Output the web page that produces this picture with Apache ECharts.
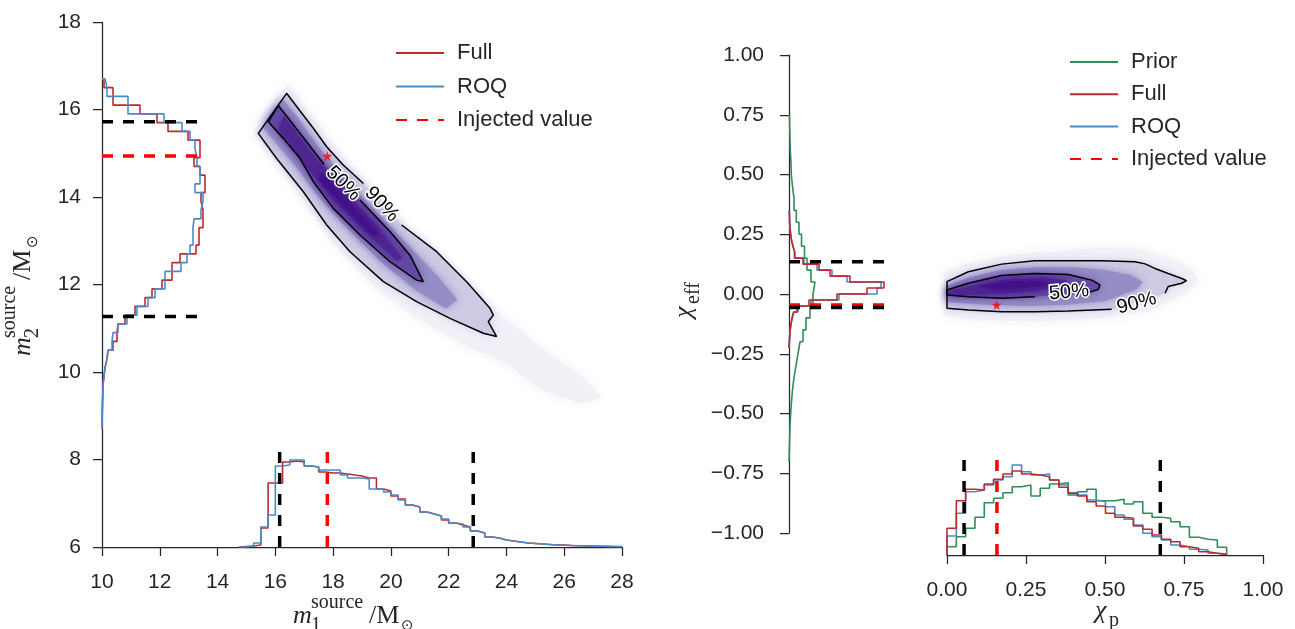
<!DOCTYPE html>
<html><head><meta charset="utf-8">
<script src="https://cdn.jsdelivr.net/npm/echarts@6/dist/echarts.min.js"></script>
<style>html,body{margin:0;padding:0;background:#fff}#c{width:1295px;height:629px}</style>
</head><body><div id="c"></div>
<script>
// ---------------- DATA ----------------
const m2Start = 8.7, m2Bin = 0.2;
const m2Full = [0.002,0.003,0.005,0.008,0.01,0.02,0.03,0.05,0.06,0.11,0.15,0.16,0.23,0.33,0.43,0.50,0.60,0.70,0.70,0.78,0.94,0.97,0.97,1.01,1.01,0.99,0.99,1.03,1.03,0.98,0.92,0.98,0.98,0.86,0.66,0.55,0.38,0.11,0.11,0.02];
const m2Roq  = [0.002,0.003,0.005,0.008,0.01,0.02,0.03,0.05,0.06,0.10,0.11,0.16,0.25,0.35,0.46,0.53,0.63,0.63,0.79,0.85,0.88,0.91,0.91,0.92,0.99,1.01,1.01,0.93,0.98,0.98,0.95,0.93,0.93,0.88,0.80,0.62,0.26,0.26,0.05,0.03];
const m1Start = 14.75, m1Bin = 0.25;
const m1Full = [0.005,0.01,0.02,0.19,0.64,0.64,0.85,0.86,0.85,0.81,0.80,0.75,0.74,0.74,0.73,0.72,0.71,0.69,0.69,0.58,0.56,0.51,0.48,0.42,0.40,0.35,0.33,0.31,0.27,0.24,0.22,0.20,0.16,0.14,0.10,0.09,0.07,0.06,0.05,0.04,0.035,0.03,0.025,0.02,0.02,0.015,0.012,0.01,0.01,0.008,0.006,0.005,0.004];
const m1Roq  = [0,0.01,0.04,0.20,0.32,0.81,0.82,0.87,0.87,0.81,0.80,0.77,0.77,0.77,0.72,0.69,0.69,0.68,0.58,0.58,0.55,0.52,0.47,0.42,0.40,0.35,0.33,0.31,0.28,0.24,0.23,0.20,0.16,0.14,0.10,0.09,0.07,0.06,0.05,0.04,0.035,0.03,0.025,0.02,0.018,0.015,0.012,0.01,0.008,0.007,0.006,0.004,0.003];
const ceStart = -0.225, ceBin = 0.025;
const ceFull = [0.004,0.008,0.012,0.02,0.03,0.045,0.08,0.20,0.48,0.78,0.95,0.61,0.41,0.30,0.14,0.055,0.04,0.025,0.018,0.01,0.007,0.005,0.003];
const ceRoq  = [0.003,0.006,0.012,0.02,0.035,0.05,0.09,0.22,0.50,0.88,0.92,0.58,0.43,0.28,0.15,0.06,0.04,0.025,0.015,0.01,0.006,0.004,0.002];
const cePriorStart = -0.70, cePriorBin = 0.05;
const cePrior = [0.004,0.007,0.01,0.017,0.025,0.035,0.05,0.07,0.09,0.11,0.14,0.17,0.21,0.24,0.26,0.22,0.18,0.155,0.125,0.10,0.073,0.05,0.035,0.023,0.02,0.013,0.01,0.007,0.005];
const cpStart = 0, cpBin = 0.0295;
const cpFull  = [0.267,0.543,0.657,0.65,0.71,0.757,0.81,0.84,0.81,0.80,0.783,0.75,0.677,0.617,0.59,0.533,0.49,0.417,0.377,0.367,0.29,0.257,0.20,0.157,0.133,0.083,0.067,0.033,0.017,0.003];
const cpRoq   = [0.19,0.417,0.633,0.65,0.70,0.75,0.783,0.90,0.833,0.80,0.81,0.75,0.70,0.623,0.60,0.55,0.533,0.483,0.40,0.357,0.30,0.217,0.183,0.15,0.10,0.083,0.057,0.05,0.017,0.01];
const cpPrior = [0.083,0.183,0.267,0.377,0.523,0.567,0.623,0.683,0.70,0.59,0.667,0.71,0.723,0.60,0.633,0.657,0.543,0.543,0.557,0.51,0.533,0.417,0.377,0.367,0.333,0.283,0.177,0.157,0.15,0.077];
const m1CI = [16.15, 22.85], m1Inj = 17.8;
const m2CI = [15.72, 11.27], m2Inj = 14.94;
const cpCI = [0.054, 0.675], cpInj = 0.158;
const ceCI = [0.135, -0.056], ceInj = -0.046;
const mLineLen = 0.98, cLineLen = 0.96;
const massC90 = [[20.37,13.36],[21.585,12.75],[22.62,12.065],[23.43,11.455],[23.546,11.30],[23.37,11.15],[23.66,10.81],[23.2,10.885],[22.046,11.227],[20.89,11.61],[19.74,12.065],[18.585,12.75],[17.777,13.36],[16.97,14.12],[16.046,14.88],[15.41,15.455],[16.39,16.37],[16.85,15.97],[17.315,15.57],[17.777,15.15],[18.35,14.73],[19.05,14.31]];
const massC50 = [[18.93,13.93],[19.97,13.21],[20.66,12.67],[21.12,12.065],[20.89,12.10],[19.97,12.52],[18.93,13.13],[18.007,13.74],[17.315,14.35],[16.854,14.884],[16.277,15.34],[15.758,15.72],[16.104,16.09],[16.854,15.455],[17.684,14.747]];
const massHalo = [[16.45,16.6],[17.3,15.8],[18.3,14.95],[19.6,14.0],[21.0,13.0],[22.4,12.1],[23.8,11.3],[25.3,10.5],[26.6,9.9],[27.3,9.4],[26.5,9.3],[25.2,9.6],[24.0,10.2],[22.6,10.6],[21.0,11.2],[19.4,11.95],[18.2,12.8],[17.1,13.8],[16.1,14.75],[15.25,15.45],[15.5,15.85]];
const massMid = [[16.25,16.25],[16.85,15.75],[17.5,15.15],[18.3,14.5],[19.5,13.65],[20.6,12.9],[21.6,12.2],[22.3,11.65],[21.9,11.45],[20.9,11.85],[19.6,12.55],[18.4,13.35],[17.5,14.0],[16.7,14.7],[16.0,15.25],[15.55,15.6]];
const massCore = [[16.3,15.85],[17.2,15.05],[18.3,14.2],[19.5,13.35],[20.4,12.6],[20.2,12.55],[19.2,13.15],[18.0,13.95],[17.0,14.75],[16.1,15.55]];
const massDeep = [[17.6,14.55],[18.6,13.85],[19.6,13.15],[19.4,13.1],[18.4,13.75],[17.5,14.4]];
const massLabels = [[18.35,14.31,'50%',-45],[19.68,13.83,'90%',-47]];
const massStar = [17.8, 14.94];
const spinC90 = [[0.521,-0.064],[0.384,-0.071],[0.278,-0.074],[0.173,-0.074],[0.0675,-0.067],[0,-0.060],[0,0.052],[0.0675,0.093],[0.173,0.125],[0.278,0.139],[0.384,0.139],[0.49,0.139],[0.595,0.135],[0.627,0.126],[0.658,0.107],[0.70,0.086],[0.743,0.065],[0.758,0.056],[0.743,0.045],[0.70,0.031],[0.69,0.003]];
const spinC50 = [[0.278,-0.011],[0.173,-0.018],[0.0675,-0.011],[0,-0.004],[0,0.017],[0.0675,0.045],[0.173,0.077],[0.278,0.086],[0.384,0.082],[0.458,0.058],[0.484,0.038],[0.479,0.020],[0.458,0.010],[0.44,0.007]];
const spinHalo = [[-0.01,0.09],[0.07,0.13],[0.2,0.165],[0.35,0.18],[0.5,0.195],[0.62,0.185],[0.7,0.15],[0.77,0.11],[0.795,0.06],[0.77,0.02],[0.72,-0.02],[0.64,-0.07],[0.5,-0.10],[0.3,-0.115],[0.1,-0.11],[-0.01,-0.09]];
const spinMid = [[0,0.035],[0.07,0.07],[0.17,0.10],[0.28,0.112],[0.4,0.112],[0.5,0.10],[0.58,0.08],[0.62,0.05],[0.6,0.02],[0.5,-0.03],[0.38,-0.045],[0.25,-0.05],[0.12,-0.045],[0,-0.035]];
const spinCore = [[0,0.01],[0.08,0.035],[0.18,0.06],[0.3,0.068],[0.38,0.058],[0.37,0.03],[0.28,0.012],[0.17,0.002],[0.08,-0.004],[0,-0.008]];
const spinDeep = [[0.1,0.035],[0.2,0.052],[0.3,0.054],[0.33,0.04],[0.25,0.025],[0.15,0.018]];
const spinLabels = [[0.386,0.0075,'50%',5],[0.600,-0.039,'90%',15]];
const spinStar = [0.157, -0.046];
const m1Ticks = {min:10, max:28, interval:2};
const m2Ticks = {min:6, max:18, interval:2};
const cpTicks = {min:0, max:1, interval:0.25};
const ceTicks = {min:-1, max:1, interval:0.25};

// ---------------- STYLE ----------------
const C = {full:'#bd2a2e', roq:'#4c8ac6', prior:'#2f8d55', inj:'#ff0000', ci:'#000000', ink:'#262626'};
const SHADE = ['#f1f0f7','#cdcae4','#958dc5','#6549a6','#4f2592','#42118a'];
const FONT = '"Liberation Sans", Arial, sans-serif';
const SERIF = '"Liberation Serif", "DejaVu Serif", serif';

function stepX(start, bin, vals){
  const p=[[start,0]];
  vals.forEach((v,i)=>{p.push([start+i*bin,v],[start+(i+1)*bin,v]);});
  p.push([start+vals.length*bin,0]);
  return p;
}
function stepY(start, bin, vals){ return stepX(start,bin,vals).map(d=>[d[1],d[0]]); }
function lineS(name, xi, yi, data, color, width, type, z){
  return {type:'line', name:name, xAxisIndex:xi, yAxisIndex:yi, data:data, symbol:'none', showSymbol:false,
    silent:true, animation:false, lineStyle:{color:color, width:width, type:type||'solid'}, itemStyle:{color:color}, z:z||5};
}
function polyS(xi, yi, pts, color, z, blur){
  return {type:'custom', xAxisIndex:xi, yAxisIndex:yi, silent:true, z:z, data:[[pts[0][0],pts[0][1]]],
    renderItem:function(params, api){
      return {type:'polygon', shape:{points:pts.map(p=>api.coord(p))},
        style:{fill:color, shadowBlur:blur, shadowColor:color}};
    }};
}
function textS(xi, yi, items){
  return {type:'custom', xAxisIndex:xi, yAxisIndex:yi, silent:true, z:20, data:items.map(d=>[d[0],d[1]]),
    renderItem:function(params, api){
      const d=items[params.dataIndex]; const c=api.coord([d[0],d[1]]);
      return {type:'text', x:c[0], y:c[1], rotation:d[3]*Math.PI/180,
        style:{text:d[2], fill:'#000', stroke:'#fff', lineWidth:3, strokeFirst:true, font:'20px '+FONT,
          align:'center', verticalAlign:'middle', textAlign:'center', textVerticalAlign:'middle'}};
    }};
}
const starPath = 'path://M50,0 L61,35 L98,35 L68,57 L79,91 L50,70 L21,91 L32,57 L2,35 L39,35 Z';

function axis(gi, show, range, opts){
  opts = opts||{};
  return {type:'value', gridIndex:gi, show:show, min:range.min, max:range.max, interval:range.interval,
    splitLine:{show:false},
    axisLine:{show:true, onZero:false, lineStyle:{color:C.ink, width:1.25}},
    axisTick:{show:true, length:9, lineStyle:{color:C.ink, width:1.25}},
    axisLabel:{color:C.ink, fontSize:21, fontFamily:FONT, margin:opts.margin||20, formatter:opts.fmt}};
}
const fmtInt = v => String(v);
const fmt2 = v => (v<0?'\u2212':'') + Math.abs(v).toFixed(2);

function density(xi, yi, halo, c90, mid, c50, core, deep){
  return [polyS(xi,yi,halo,SHADE[0],1,12), polyS(xi,yi,c90,SHADE[1],2,8), polyS(xi,yi,mid,SHADE[2],3,8),
          polyS(xi,yi,c50,SHADE[3],4,8), polyS(xi,yi,core,SHADE[4],5,8), polyS(xi,yi,deep,SHADE[5],6,8)];
}
const series = [];
series.push(...density(0,0,massHalo,massC90,massMid,massC50,massCore,massDeep));
series.push(lineS('c90m',0,0,massC90,'#000',1.5,'solid',10));
series.push(lineS('c50m',0,0,massC50,'#000',1.5,'solid',10));
series.push(textS(0,0,massLabels));
series.push(...density(3,3,spinHalo,spinC90,spinMid,spinC50,spinCore,spinDeep));
series.push(lineS('c90s',3,3,spinC90,'#000',1.5,'solid',10));
series.push(lineS('c50s',3,3,spinC50,'#000',1.5,'solid',10));
series.push(textS(3,3,spinLabels));
// left marginals
series.push(lineS('Full',1,1,stepY(m2Start,m2Bin,m2Full),C.full,1.6));
series.push(lineS('ROQ',1,1,stepY(m2Start,m2Bin,m2Roq),C.roq,1.6));
series.push(lineS('Injected value',1,1,[[0,m2Inj],[mLineLen,m2Inj]],C.inj,3.5,[11,10],8));
m2CI.forEach(v=>series.push(lineS('ci',1,1,[[0,v],[mLineLen,v]],C.ci,3.5,[11,10],8)));
series.push(lineS('Full',2,2,stepX(m1Start,m1Bin,m1Full),C.full,1.6));
series.push(lineS('ROQ',2,2,stepX(m1Start,m1Bin,m1Roq),C.roq,1.6));
series.push(lineS('Injected value',2,2,[[m1Inj,0],[m1Inj,mLineLen]],C.inj,3.5,[11,10],8));
m1CI.forEach(v=>series.push(lineS('ci',2,2,[[v,0],[v,mLineLen]],C.ci,3.5,[11,10],8)));
// right marginals
series.push(lineS('Prior',4,4,stepY(cePriorStart,cePriorBin,cePrior),C.prior,1.6));
series.push(lineS('Full',4,4,stepY(ceStart,ceBin,ceFull),C.full,1.6,'solid',6));
series.push(lineS('ROQ',4,4,stepY(ceStart,ceBin,ceRoq),C.roq,1.6));
series.push(lineS('Injected value',4,4,[[0,ceInj],[cLineLen,ceInj]],C.inj,3.5,[11,10],8));
ceCI.forEach(v=>series.push(lineS('ci',4,4,[[0,v],[cLineLen,v]],C.ci,3.5,[11,10],8)));
series.push(lineS('Prior',5,5,stepX(cpStart,cpBin,cpPrior),C.prior,1.6));
series.push(lineS('ROQ',5,5,stepX(cpStart,cpBin,cpRoq),C.roq,1.6));
series.push(lineS('Full',5,5,stepX(cpStart,cpBin,cpFull),C.full,1.6,'solid',6));
series.push(lineS('Injected value',5,5,[[cpInj,0],[cpInj,cLineLen]],C.inj,3.5,[11,10],8));
cpCI.forEach(v=>series.push(lineS('ci',5,5,[[v,0],[v,cLineLen]],C.ci,3.5,[11,10],8)));
series.push({type:'scatter', xAxisIndex:0, yAxisIndex:0, data:[massStar], symbol:starPath, symbolSize:10, itemStyle:{color:C.inj}, z:12, silent:true});
series.push({type:'scatter', xAxisIndex:3, yAxisIndex:3, data:[spinStar], symbol:starPath, symbolSize:10, itemStyle:{color:C.inj}, z:12, silent:true});

function mathLabel(x, y, rot, parts){
  return {type:'group', x:x, y:y, rotation:rot, silent:true,
    children: parts.map(p=>({type:'text', x:p[1], y:p[2]-0.33*p[4],
      style:{text:p[0], font:p[3], fill:C.ink, align:'left', verticalAlign:'middle', textAlign:'left', textVerticalAlign:'middle'}}))};
}
const it = s => 'italic '+s+'px '+SERIF, rm = s => s+'px '+SERIF;
const massParts = n => [['m',0,0,it(26),26],['source',18,-16,rm(20),20],[n,18,7,rm(20),20],['/M',76,0,rm(26),26],['\u2299',108,6,'15px "DejaVu Sans"',15]];
const legendBase = {orient:'vertical', itemWidth:48, itemHeight:14, selectedMode:false,
  itemStyle:{color:'rgba(0,0,0,0)', borderWidth:0, opacity:0},
  textStyle:{fontSize:22, color:C.ink, fontFamily:FONT, padding:[0,0,0,8]}};

const option = {
  animation:false, backgroundColor:'#fff',
  grid:[
    {left:102, top:22, width:520, height:525},
    {left:102, top:22, width:520, height:525},
    {left:102, top:22, width:520, height:525},
    {left:789, top:55, width:474, height:478},
    {left:789, top:55, width:474, height:478},
    {left:789, top:55, width:474, height:500},
    {left:947, top:55, width:316, height:500}
  ],
  xAxis:[
    axis(0,true,m1Ticks,{margin:25,fmt:fmtInt}),
    axis(1,false,{min:0,max:5.2}),
    axis(2,false,m1Ticks),
    axis(3,false,{min:-0.5,max:1}),
    axis(4,false,{min:0,max:4.74}),
    axis(5,false,{min:-0.5,max:1}),
    axis(6,true,cpTicks,{margin:25,fmt:fmt2})
  ],
  yAxis:[
    axis(0,true,m2Ticks,{margin:21,fmt:fmtInt}),
    axis(1,false,m2Ticks),
    axis(2,false,{min:0,max:5.25}),
    axis(3,true,ceTicks,{margin:25,fmt:fmt2}),
    axis(4,false,ceTicks),
    axis(5,false,{min:0,max:5}),
    axis(6,false,{min:0,max:1})
  ],
  legend:[
    Object.assign({data:['Full','ROQ','Injected value'], left:390, top:37, itemGap:11.5}, legendBase),
    Object.assign({data:['Prior','Full','ROQ','Injected value'], left:1064, top:46, itemGap:10.3}, legendBase)
  ],
  graphic:[
    mathLabel(293,625,0,massParts('1')),
    mathLabel(32,356,Math.PI/2,massParts('2')),
    mathLabel(1095,620,0,[['\u03c7',0,0,it(26),26],['p',14,7,rm(20),20]]),
    mathLabel(693,318,Math.PI/2,[['\u03c7',0,0,it(26),26],['eff',14,7,rm(20),20]])
  ],
  series:series
};
const chart = echarts.init(document.getElementById('c'));
chart.setOption(option);
</script></body></html>
